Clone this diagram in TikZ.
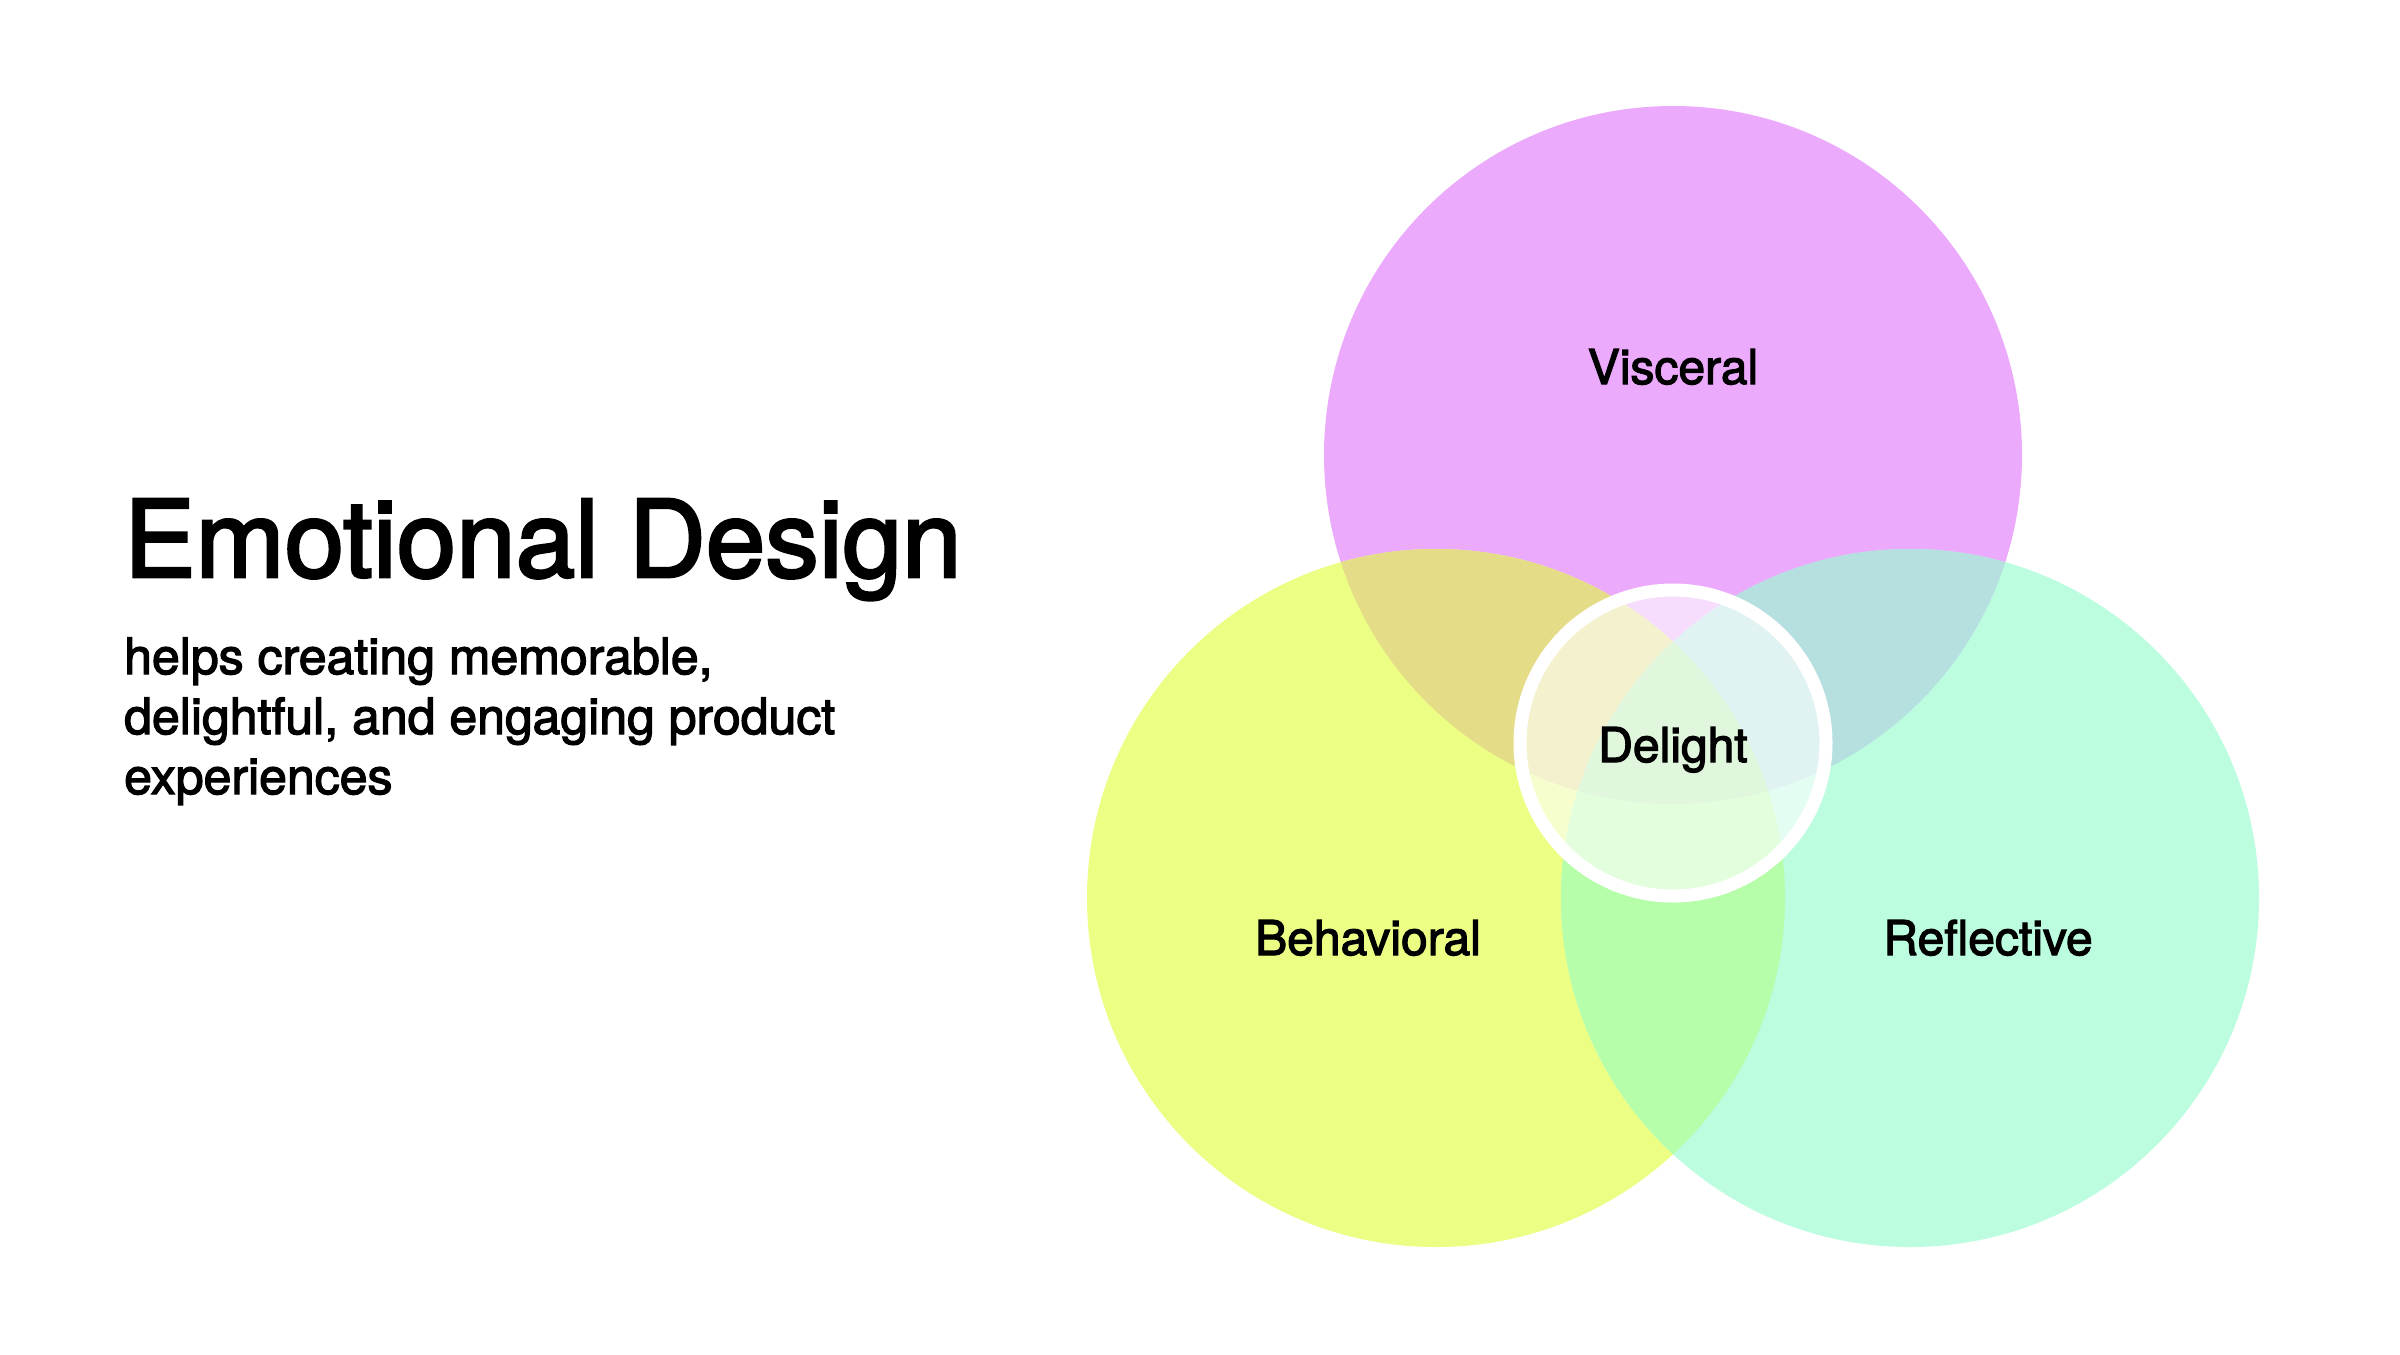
\documentclass[tikz,border=0pt]{standalone}
\usepackage{fontspec}
\setmainfont{TeX Gyre Heros}[FakeBold=2.5]
\newfontfamily\medfont{TeX Gyre Heros}[FakeBold=2.5]
\definecolor{cV}{RGB}{235,170,252}
\definecolor{cB}{RGB}{237,254,133}
\definecolor{cR}{RGB}{188,252,223}
\definecolor{cVB}{RGB}{228,220,135}
\definecolor{cVR}{RGB}{182,223,224}
\definecolor{cBR}{RGB}{183,254,170}
\definecolor{cVBR}{RGB}{182,235,172}
\tikzset{
  lbl/.style={inner sep=0pt, anchor=base, text=black, font=\medfont\fontsize{48}{56}\selectfont},
}
\begin{document}
\begin{tikzpicture}[x=1pt,y=-1pt]
\useasboundingbox[fill=white] (0,0) rectangle (2400,1354);
\def\rr{349}
\coordinate (V) at (1673,455);
\coordinate (B) at (1436,898);
\coordinate (R) at (1910,898);
\coordinate (D) at (1673,743);
% base circles
\fill[cV] (V) circle (\rr);
\fill[cB] (B) circle (\rr);
\fill[cR] (R) circle (\rr);
% pairwise overlaps
\begin{scope}
  \clip (V) circle (\rr);
  \fill[cVB] (B) circle (\rr);
  \fill[cVR] (R) circle (\rr);
\end{scope}
\begin{scope}
  \clip (B) circle (\rr);
  \fill[cBR] (R) circle (\rr);
\end{scope}
\begin{scope}
  \clip (V) circle (\rr);
  \clip (B) circle (\rr);
  \fill[cVBR] (R) circle (\rr);
\end{scope}
% delight ring
\fill[white, fill opacity=0.6] (D) circle (153);
\draw[white, line width=13pt] (D) circle (153);
% labels
\node[lbl] (vis) at (1673,384) {Visceral};
\node[lbl] (beh) at (1368,955) {Behavioral};
\node[lbl] (ref) at (1988,955) {Reflective};
\node[lbl] (del) at (1673,762) {Delight};
% title
\node[inner sep=0pt, anchor=base west, font=\medfont\fontsize{107}{120}\selectfont] (title) at (124,577) {Emotional Design};
\node[inner sep=0pt, anchor=base west, align=left, font=\medfont\fontsize{50}{60}\selectfont] (sub) at (124,794) {helps creating memorable,\\delightful, and engaging product\\experiences};
\end{tikzpicture}
\end{document}
